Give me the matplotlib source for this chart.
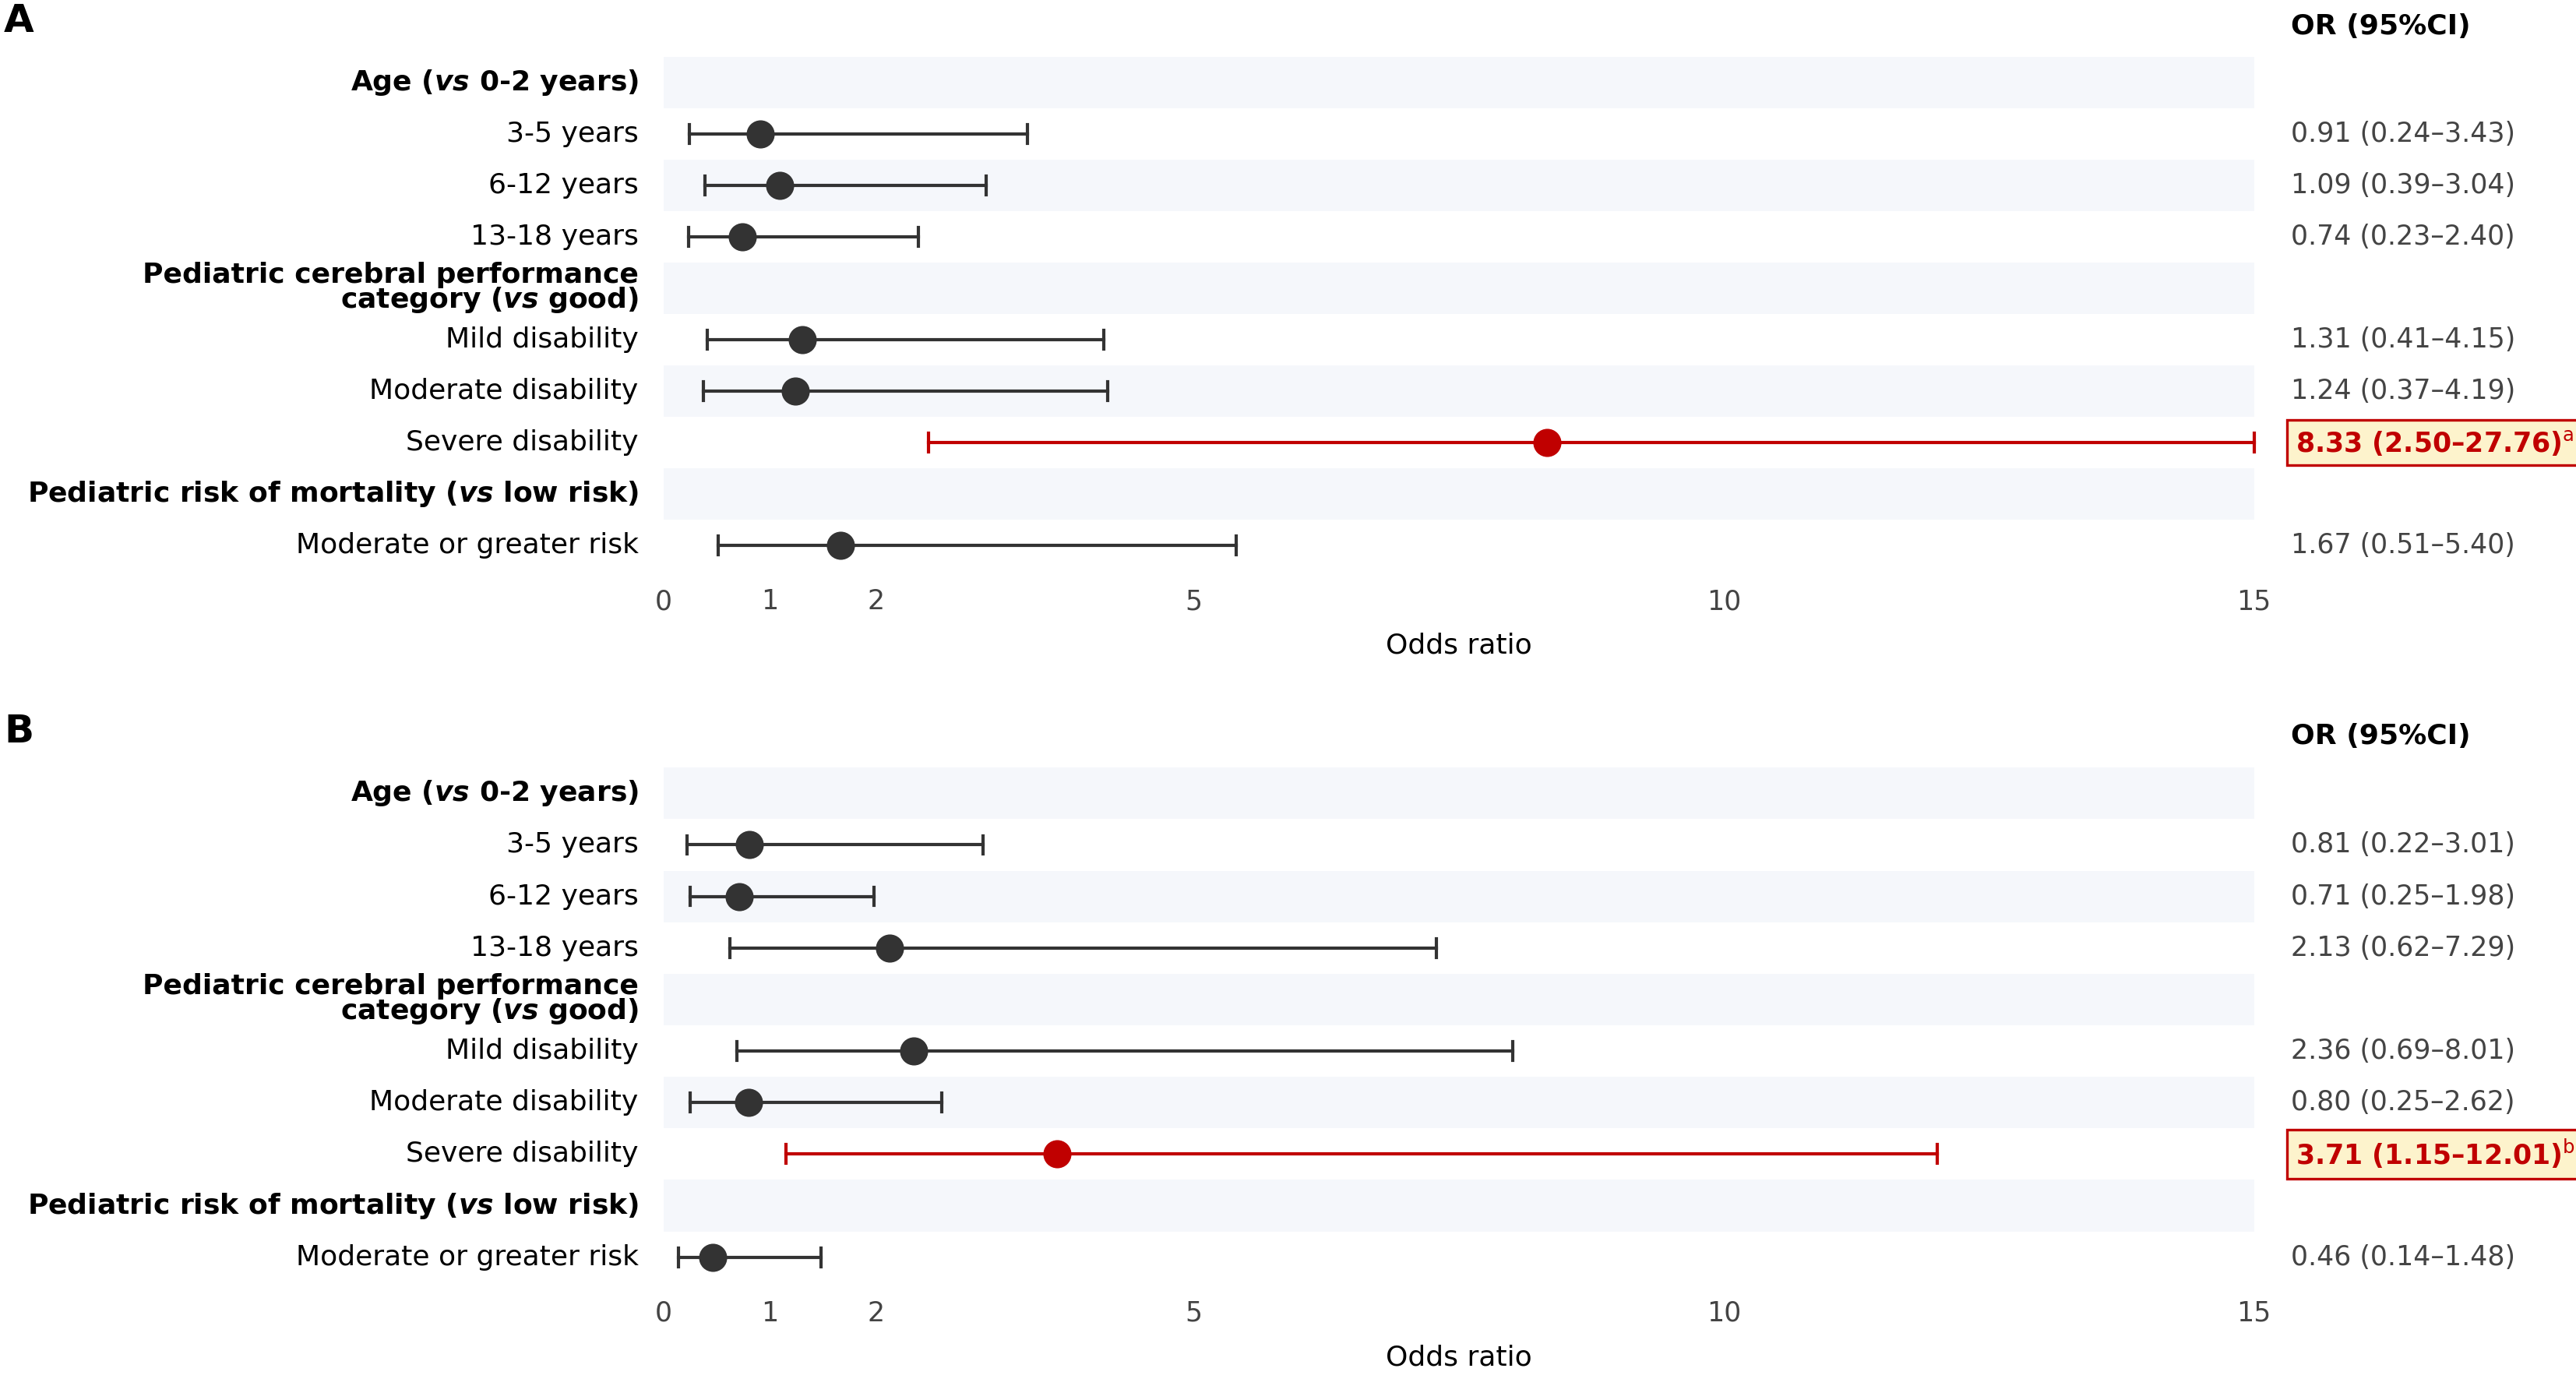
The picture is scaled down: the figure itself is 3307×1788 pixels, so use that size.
import matplotlib
matplotlib.use("Agg")
import matplotlib.pyplot as plt
import matplotlib.transforms as mtrans

plt.rcParams['font.family'] = ['DejaVu Sans']
plt.rcParams['mathtext.fontset'] = 'custom'
plt.rcParams['mathtext.bfit'] = 'DejaVu Sans:italic:bold'
plt.rcParams['mathtext.rm'] = 'DejaVu Sans'

row_labels = ["Age ($\\mathbfit{vs}$ 0-2 years)", "3-5 years", "6-12 years", "13-18 years",
              "Pediatric cerebral performance\ncategory ($\\mathbfit{vs}$ good)",
              "Mild disability", "Moderate disability", "Severe disability",
              "Pediatric risk of mortality ($\\mathbfit{vs}$ low risk)", "Moderate or greater risk"]
is_header = [True, False, False, False, True, False, False, False, True, False]

or_a = [None, 0.91, 1.09, 0.74, None, 1.31, 1.24, 8.33, None, 1.67]
lo_a = [None, 0.24, 0.39, 0.23, None, 0.41, 0.37, 2.50, None, 0.51]
hi_a = [None, 3.43, 3.04, 2.40, None, 4.15, 4.19, 27.76, None, 5.40]
sig_a = "a"

or_b = [None, 0.81, 0.71, 2.13, None, 2.36, 0.80, 3.71, None, 0.46]
lo_b = [None, 0.22, 0.25, 0.62, None, 0.69, 0.25, 1.15, None, 0.14]
hi_b = [None, 3.01, 1.98, 7.29, None, 8.01, 2.62, 12.01, None, 1.48]
sig_b = "b"

sig_row = 7
xticks = [0, 1, 2, 5, 10, 15]
xmax = 15

DARK = "#333333"
RED = "#c00000"
SHADE = "#f5f7fb"

fig = plt.figure(figsize=(16.535, 8.94), dpi=200)


def panel(rect, letter, ors, los, his, sup):
    ax = fig.add_axes(rect)
    n = len(row_labels)
    ax.set_xlim(0, xmax)
    ax.set_ylim(n - 0.5, -0.5)
    for i in range(n):
        if i % 2 == 0:
            ax.axhspan(i - 0.5, i + 0.5, color=SHADE, lw=0, zorder=0)
    lab_tr = mtrans.blended_transform_factory(ax.transAxes, ax.transData)
    for i, lab in enumerate(row_labels):
        ax.text(-0.016, i, lab, transform=lab_tr, ha="right", va="center",
                fontsize=13, color="black",
                fontweight="bold" if is_header[i] else "normal",
                linespacing=0.85)
        if ors[i] is None:
            continue
        c = RED if i == sig_row else DARK
        hi = min(his[i], xmax)
        ax.plot([los[i], hi], [i, i], color=c, lw=1.5, zorder=2, clip_on=False)
        ax.plot([los[i], los[i]], [i - 0.18, i + 0.18], color=c, lw=1.5, clip_on=False)
        ax.plot([hi, hi], [i - 0.18, i + 0.18], color=c, lw=1.5, clip_on=False)
        ax.plot(ors[i], i, "o", color=c, ms=12, zorder=3, clip_on=False)
        txt = "%.2f (%.2f\u2013%.2f)" % (ors[i], los[i], his[i])
        if i == sig_row:
            ax.text(1.026, i, txt + "$^{\\mathrm{%s}}$" % sup, transform=lab_tr,
                    ha="left", va="center", fontsize=12.5, color=RED,
                    fontweight="bold",
                    bbox=dict(boxstyle="square,pad=0.3", fc="#fdf3cc", ec=RED, lw=1.2))
        else:
            ax.text(1.023, i, txt, transform=lab_tr, ha="left", va="center",
                    fontsize=12.5, color="#444444")
    ax.text(1.023, 1.06, "OR (95%CI)", transform=ax.transAxes, ha="left",
            va="center", fontsize=13, fontweight="bold")
    ax.text(-0.415, 1.07, letter, transform=ax.transAxes, ha="left",
            va="center", fontsize=18, fontweight="bold")
    ax.set_xticks(xticks)
    ax.set_yticks([])
    ax.tick_params(axis="x", length=0, labelsize=12.5, labelcolor="#444444", pad=8)
    for s in ax.spines.values():
        s.set_visible(False)
    ax.set_xlabel("Odds ratio", fontsize=13, labelpad=8)


panel([0.2577, 0.590, 0.6173, 0.369], "A", or_a, lo_a, hi_a, sig_a)
panel([0.2577, 0.079, 0.6173, 0.370], "B", or_b, lo_b, hi_b, sig_b)

fig.savefig("out.png", dpi=200)
